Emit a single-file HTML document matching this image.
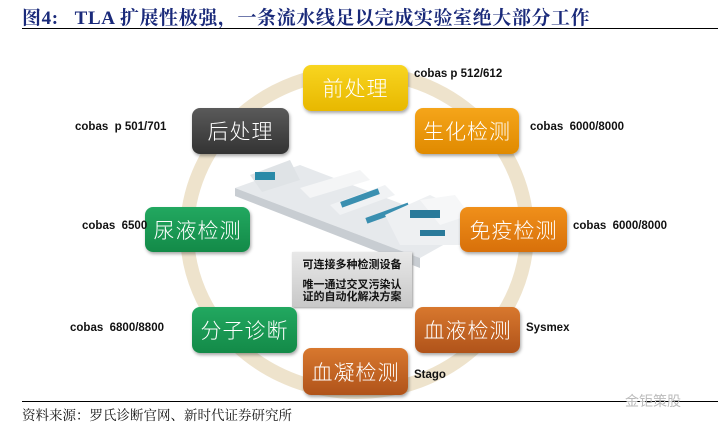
<!DOCTYPE html>
<html><head><meta charset="utf-8"><style>
body{margin:0;width:718px;height:434px;background:#fff;position:relative;overflow:hidden;font-family:"Liberation Sans","Noto Sans CJK SC",sans-serif}
.t{position:absolute;left:22px;top:3px;font-family:"Liberation Serif","Noto Serif CJK SC",serif;font-weight:bold;font-size:19px;letter-spacing:0.6px;color:#1a2a7a;white-space:nowrap}
.hl{position:absolute;left:22px;width:696px;height:1px;background:#000}
.b{position:absolute;border-radius:8px;color:#fff;font-size:21px;display:flex;align-items:center;justify-content:center;letter-spacing:1px;box-shadow:1px 2px 3px rgba(0,0,0,.35);font-family:"Noto Sans CJK SC",sans-serif;font-weight:300}
.l{position:absolute;font-weight:bold;font-size:11.5px;color:#111;white-space:nowrap}
.y{background:linear-gradient(#f8d520,#e8b800)}
.o{background:linear-gradient(#f5a51a,#e08a00)}
.o2{background:linear-gradient(#f0901a,#d8700a)}
.br{background:linear-gradient(#d8782e,#b0531a)}
.g{background:linear-gradient(#22a860,#138a48)}
.d{background:linear-gradient(#5a5a5a,#333)}
</style></head><body>
<div class="t">图4:&nbsp;&nbsp; TLA 扩展性极强，一条流水线足以完成实验室绝大部分工作</div>
<div class="hl" style="top:28px"></div>
<svg style="position:absolute;left:0;top:0" width="718" height="434">
<ellipse cx="357" cy="232" rx="170" ry="160" fill="none" stroke="#eee3cc" stroke-width="14"/>
<g>
<polygon points="235,188 300,165 470,230 420,258" fill="#e6e9ec"/>
<polygon points="235,188 420,258 420,268 235,196" fill="#c8cdd2"/>
<polygon points="250,175 290,160 300,180 262,192" fill="#dfe3e6"/>
<rect x="255" y="172" width="20" height="8" fill="#2a8aa8"/>
<polygon points="300,188 360,170 370,180 310,198" fill="#f4f5f6"/>
<polygon points="330,205 385,185 395,195 340,215" fill="#f0f2f4"/>
<rect x="340" y="195" width="40" height="6" fill="#3a8fb0" transform="rotate(-20 360 198)"/>
<rect x="365" y="210" width="45" height="6" fill="#3a8fb0" transform="rotate(-20 388 213)"/>
<polygon points="385,215 430,195 470,215 460,245 400,245" fill="#eef0f2"/>
<polygon points="420,200 455,195 470,215 440,225" fill="#f6f7f8"/>
<rect x="410" y="210" width="30" height="8" fill="#2a7a9a"/>
<rect x="420" y="230" width="25" height="6" fill="#2a7a9a"/>
</g>
</svg>
<div style="position:absolute;left:292px;top:252px;width:120px;height:55px;background:linear-gradient(#e8e8e8,#c8c8c8);box-shadow:1px 1px 2px #999;font-weight:bold;font-size:11px;line-height:12px;color:#111;text-align:center;font-family:'Noto Sans CJK SC',sans-serif">
<div style="margin-top:6px">可连接多种检测设备</div><div style="margin-top:8px">唯一通过交叉污染认<br>证的自动化解决方案</div></div>
<div class="b y" style="left:303px;top:65px;width:105px;height:46px">前处理</div>
<div class="b o" style="left:415px;top:108px;width:104px;height:46px">生化检测</div>
<div class="b o2" style="left:460px;top:207px;width:107px;height:45px">免疫检测</div>
<div class="b br" style="left:415px;top:307px;width:105px;height:46px">血液检测</div>
<div class="b br" style="left:303px;top:348px;width:105px;height:47px">血凝检测</div>
<div class="b g" style="left:192px;top:307px;width:105px;height:46px">分子诊断</div>
<div class="b g" style="left:145px;top:207px;width:105px;height:45px">尿液检测</div>
<div class="b d" style="left:192px;top:108px;width:97px;height:46px">后处理</div>
<div class="l" style="left:414px;top:68px">cobas p 512/612</div>
<div class="l" style="left:530px;top:121px">cobas&nbsp; 6000/8000</div>
<div class="l" style="left:573px;top:220px">cobas&nbsp; 6000/8000</div>
<div class="l" style="left:526px;top:322px">Sysmex</div>
<div class="l" style="left:414px;top:369px">Stago</div>
<div class="l" style="left:70px;top:322px">cobas&nbsp; 6800/8800</div>
<div class="l" style="left:82px;top:220px">cobas&nbsp; 6500</div>
<div class="l" style="left:75px;top:121px">cobas&nbsp; p 501/701</div>
<div class="hl" style="top:401px"></div>
<div style="position:absolute;left:22px;top:404px;font-size:13.5px;color:#111;font-family:'Noto Serif CJK SC',serif">资料来源：罗氏诊断官网、新时代证券研究所</div>
<div style="position:absolute;left:625px;top:391px;font-size:14px;color:#bbb;font-family:'Noto Sans CJK SC',sans-serif">金钜策股</div>
</body></html>
